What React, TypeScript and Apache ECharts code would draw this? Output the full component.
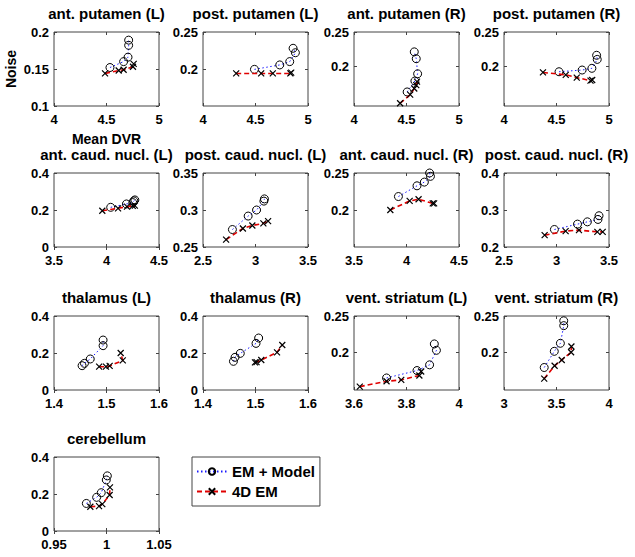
import React, { useEffect, useRef } from "react";
import * as echarts from "echarts";

// ---------- data ----------
const panelTitles = [
  "ant. putamen (L)", "post. putamen (L)", "ant. putamen (R)", "post. putamen (R)",
  "ant. caud. nucl. (L)", "post. caud. nucl. (L)", "ant. caud. nucl. (R)", "post. caud. nucl. (R)",
  "thalamus (L)", "thalamus (R)", "vent. striatum (L)", "vent. striatum (R)",
  "cerebellum",
];

const seriesNames = ["EM + Model", "4D EM"];

// [Mean DVR, Noise]
const antPutamenL_em = [[4.533, 0.152], [4.663, 0.160], [4.705, 0.166], [4.711, 0.182], [4.711, 0.189]];
const antPutamenL_4d = [[4.486, 0.144], [4.616, 0.148], [4.663, 0.149], [4.752, 0.153], [4.759, 0.157]];
const postPutamenL_em = [[4.49, 0.1995], [4.731, 0.2055], [4.826, 0.21], [4.88, 0.222], [4.858, 0.228]];
const postPutamenL_4d = [[4.316, 0.194], [4.554, 0.194], [4.665, 0.194], [4.832, 0.194], [4.84, 0.195]];
const antPutamenR_em = [[4.506, 0.1625], [4.58, 0.1785], [4.606, 0.189], [4.593, 0.211], [4.574, 0.221]];
const antPutamenR_4d = [[4.439, 0.146], [4.535, 0.1585], [4.574, 0.1675], [4.593, 0.1725], [4.6, 0.1775]];
const postPutamenR_em = [[4.524, 0.192], [4.744, 0.1945], [4.837, 0.197], [4.888, 0.21], [4.882, 0.216]];
const postPutamenR_4d = [[4.371, 0.191], [4.588, 0.1875], [4.693, 0.1835], [4.824, 0.179], [4.84, 0.18]];
const antCaudL_em = [[4.04, 0.2145], [4.19, 0.2327], [4.25, 0.24], [4.26, 0.249], [4.27, 0.2545]];
const antCaudL_4d = [[3.96, 0.196], [4.11, 0.209], [4.195, 0.218], [4.25, 0.222], [4.27, 0.224]];
const postCaudL_em = [[2.78, 0.2736], [2.93, 0.2918], [3.01, 0.30], [3.08, 0.312], [3.085, 0.315]];
const postCaudL_4d = [[2.72, 0.26], [2.88, 0.275], [2.97, 0.279], [3.075, 0.282], [3.12, 0.285]];
const antCaudR_em = [[3.923, 0.2182], [4.1, 0.2327], [4.17, 0.2377], [4.228, 0.2455], [4.22, 0.25]];
const antCaudR_4d = [[3.846, 0.2], [4.03, 0.2123], [4.115, 0.2145], [4.25, 0.209], [4.263, 0.209]];
const postCaudR_em = [[2.98, 0.2473], [3.2, 0.2618], [3.294, 0.268], [3.395, 0.2745], [3.405, 0.2845]];
const postCaudR_4d = [[2.887, 0.232], [3.087, 0.243], [3.214, 0.2455], [3.389, 0.241], [3.44, 0.241]];
const thalamusL_em = [[1.4535, 0.1315], [1.458, 0.144], [1.469, 0.1676], [1.4935, 0.2396], [1.4935, 0.27]];
const thalamusL_4d = [[1.486, 0.126], [1.499, 0.126], [1.506, 0.13], [1.531, 0.16], [1.527, 0.2]];
const thalamusR_em = [[1.458, 0.155], [1.461, 0.1766], [1.471, 0.198], [1.501, 0.252], [1.506, 0.281]];
const thalamusR_4d = [[1.499, 0.1495], [1.502, 0.151], [1.511, 0.162], [1.541, 0.2036], [1.551, 0.243]];
const ventStrL_em = [[3.724, 0.1646], [3.84, 0.1748], [3.888, 0.1827], [3.914, 0.2027], [3.906, 0.2115]];
const ventStrL_4d = [[3.622, 0.1527], [3.724, 0.16], [3.78, 0.162], [3.849, 0.168], [3.856, 0.1735]];
const ventStrR_em = [[3.383, 0.179], [3.479, 0.2013], [3.537, 0.2124], [3.569, 0.2367], [3.569, 0.2434]];
const ventStrR_4d = [[3.383, 0.1637], [3.482, 0.1814], [3.55, 0.1894], [3.639, 0.2], [3.642, 0.208]];
const cerebellum_em = [[0.9808, 0.149], [0.9906, 0.182], [0.995, 0.207], [0.9998, 0.276], [1.0008, 0.298]];
const cerebellum_4d = [[0.9846, 0.131], [0.9929, 0.1345], [0.996, 0.145], [1.003, 0.1945], [1.0033, 0.236]];

const emData = [
  antPutamenL_em, postPutamenL_em, antPutamenR_em, postPutamenR_em,
  antCaudL_em, postCaudL_em, antCaudR_em, postCaudR_em,
  thalamusL_em, thalamusR_em, ventStrL_em, ventStrR_em, cerebellum_em,
];
const fourDData = [
  antPutamenL_4d, postPutamenL_4d, antPutamenR_4d, postPutamenR_4d,
  antCaudL_4d, postCaudL_4d, antCaudR_4d, postCaudR_4d,
  thalamusL_4d, thalamusR_4d, ventStrL_4d, ventStrR_4d, cerebellum_4d,
];

const xRanges = [
  [4, 5], [4, 5], [4, 5], [4, 5],
  [3.5, 4.5], [2.5, 3.5], [3.5, 4.5], [2.5, 3.5],
  [1.4, 1.6], [1.4, 1.6], [3.6, 4], [3, 4],
  [0.95, 1.05],
];
const xTicks = [
  [4, 4.5, 5], [4, 4.5, 5], [4, 4.5, 5], [4, 4.5, 5],
  [3.5, 4, 4.5], [2.5, 3, 3.5], [3.5, 4, 4.5], [2.5, 3, 3.5],
  [1.4, 1.5, 1.6], [1.4, 1.5, 1.6], [3.6, 3.8, 4], [3, 3.5, 4],
  [0.95, 1, 1.05],
];
const yRanges = [
  [0.1, 0.2], [0.15, 0.25], [0.142, 0.25], [0.142, 0.25],
  [0, 0.4], [0.25, 0.35], [0.15, 0.25], [0.2, 0.4],
  [0, 0.4], [0, 0.4], [0.148, 0.25], [0.148, 0.25],
  [0, 0.4],
];
const yTicks = [
  [0.1, 0.15, 0.2], [0.2, 0.25], [0.2, 0.25], [0.2, 0.25],
  [0, 0.2, 0.4], [0.25, 0.3, 0.35], [0.2, 0.25], [0.2, 0.3, 0.4],
  [0, 0.2, 0.4], [0, 0.2, 0.4], [0.2, 0.25], [0.2, 0.25],
  [0, 0.2, 0.4],
];

const xAxisName = "Mean DVR";
const yAxisName = "Noise";

// ---------- layout ----------
const colLeft = [54, 203, 354, 504];
const rowTop = [32, 173, 316, 457];
const boxW = 105;
const boxH = 74;
const FONT = "'Liberation Sans', Arial, Helvetica, sans-serif";
const crossPath = "path://M0,0L10,10M10,0L0,10";

const fmt = (v: number) => String(+Number(v).toFixed(3));

export default function App() {
  const ref = useRef<HTMLDivElement>(null);
  useEffect(() => {
    document.body.style.margin = "0";
    const chart = echarts.init(ref.current!, null, { renderer: "svg" });
    const n = panelTitles.length;
    const grids: any[] = [];
    const titles: any[] = [];
    const xAxes: any[] = [];
    const yAxes: any[] = [];
    const series: any[] = [];
    const mirrorX: any[] = [];
    const mirrorY: any[] = [];
    for (let i = 0; i < n; i++) {
      const left = colLeft[i % 4];
      const top = rowTop[Math.floor(i / 4)];
      grids.push({
        left, top, width: boxW, height: boxH,
        show: true, borderColor: "#444", borderWidth: 1, backgroundColor: "#fff",
      });
      titles.push({
        text: panelTitles[i],
        left: left + boxW / 2,
        top: top - 26,
        textAlign: "center",
        padding: 0,
        textStyle: { fontFamily: FONT, fontSize: 15, fontWeight: "bold", color: "#000" },
      });
      const tickStyle = { color: "#444", width: 1 };
      xAxes.push({
        type: "value", gridIndex: i, min: xRanges[i][0], max: xRanges[i][1], position: "bottom",
        axisLine: { show: false },
        axisTick: { show: true, inside: true, length: 3, customValues: xTicks[i], lineStyle: tickStyle },
        axisLabel: {
          customValues: xTicks[i], formatter: fmt, margin: 7,
          fontFamily: FONT, fontSize: 13, fontWeight: "bold", color: "#000",
        },
        splitLine: { show: false },
        ...(i === 0 ? {
          name: xAxisName, nameLocation: "middle", nameGap: 26,
          nameTextStyle: { fontFamily: FONT, fontSize: 14, fontWeight: "bold", color: "#000" },
        } : {}),
      });
      yAxes.push({
        type: "value", gridIndex: i, min: yRanges[i][0], max: yRanges[i][1], position: "left",
        axisLine: { show: false },
        axisTick: { show: true, inside: true, length: 3, customValues: yTicks[i], lineStyle: tickStyle },
        axisLabel: {
          customValues: yTicks[i], formatter: fmt, margin: 5,
          fontFamily: FONT, fontSize: 13, fontWeight: "bold", color: "#000",
        },
        splitLine: { show: false },
        ...(i === 0 ? {
          name: yAxisName, nameLocation: "middle", nameGap: 36, nameRotate: 90,
          nameTextStyle: { fontFamily: FONT, fontSize: 14, fontWeight: "bold", color: "#000" },
        } : {}),
      });
      mirrorX.push({
        type: "value", gridIndex: i, min: xRanges[i][0], max: xRanges[i][1], position: "top",
        axisLine: { show: false },
        axisTick: { show: true, inside: true, length: 3, customValues: xTicks[i], lineStyle: tickStyle },
        axisLabel: { show: false }, splitLine: { show: false },
      });
      mirrorY.push({
        type: "value", gridIndex: i, min: yRanges[i][0], max: yRanges[i][1], position: "right",
        axisLine: { show: false },
        axisTick: { show: true, inside: true, length: 3, customValues: yTicks[i], lineStyle: tickStyle },
        axisLabel: { show: false }, splitLine: { show: false },
      });
      series.push({
        name: seriesNames[0], type: "line", xAxisIndex: i, yAxisIndex: i,
        data: emData[i], symbol: "circle", symbolSize: 8, showSymbol: true,
        lineStyle: { color: "#1a1aff", width: 1, type: [1.5, 2.5] },
        itemStyle: { color: "rgba(0,0,0,0)", borderColor: "#000", borderWidth: 1 },
        z: 2,
      });
      series.push({
        name: seriesNames[1], type: "line", xAxisIndex: i, yAxisIndex: i,
        data: fourDData[i], symbol: crossPath, symbolSize: 6, showSymbol: true,
        lineStyle: { color: "#e00000", width: 1.6, type: [5, 3] },
        itemStyle: { color: "rgba(0,0,0,0)", borderColor: "#000", borderWidth: 1.2 },
        z: 3,
      });
    }
    chart.setOption({
      animation: false,
      backgroundColor: "#fff",
      title: titles,
      grid: grids,
      xAxis: [...xAxes, ...mirrorX],
      yAxis: [...yAxes, ...mirrorY],
      legend: {
        data: seriesNames,
        orient: "vertical",
        left: 192,
        top: 457,
        padding: [7, 5, 7, 4],
        itemGap: 5,
        itemWidth: 30,
        itemHeight: 8,
        backgroundColor: "#fff",
        borderColor: "#444",
        borderWidth: 1,
        borderRadius: 0,
        textStyle: { fontFamily: FONT, fontSize: 15, fontWeight: "bold", color: "#000" },
      },
      series,
    });
    return () => chart.dispose();
  }, []);
  return <div ref={ref} style={{ width: 635, height: 557 }} />;
}
